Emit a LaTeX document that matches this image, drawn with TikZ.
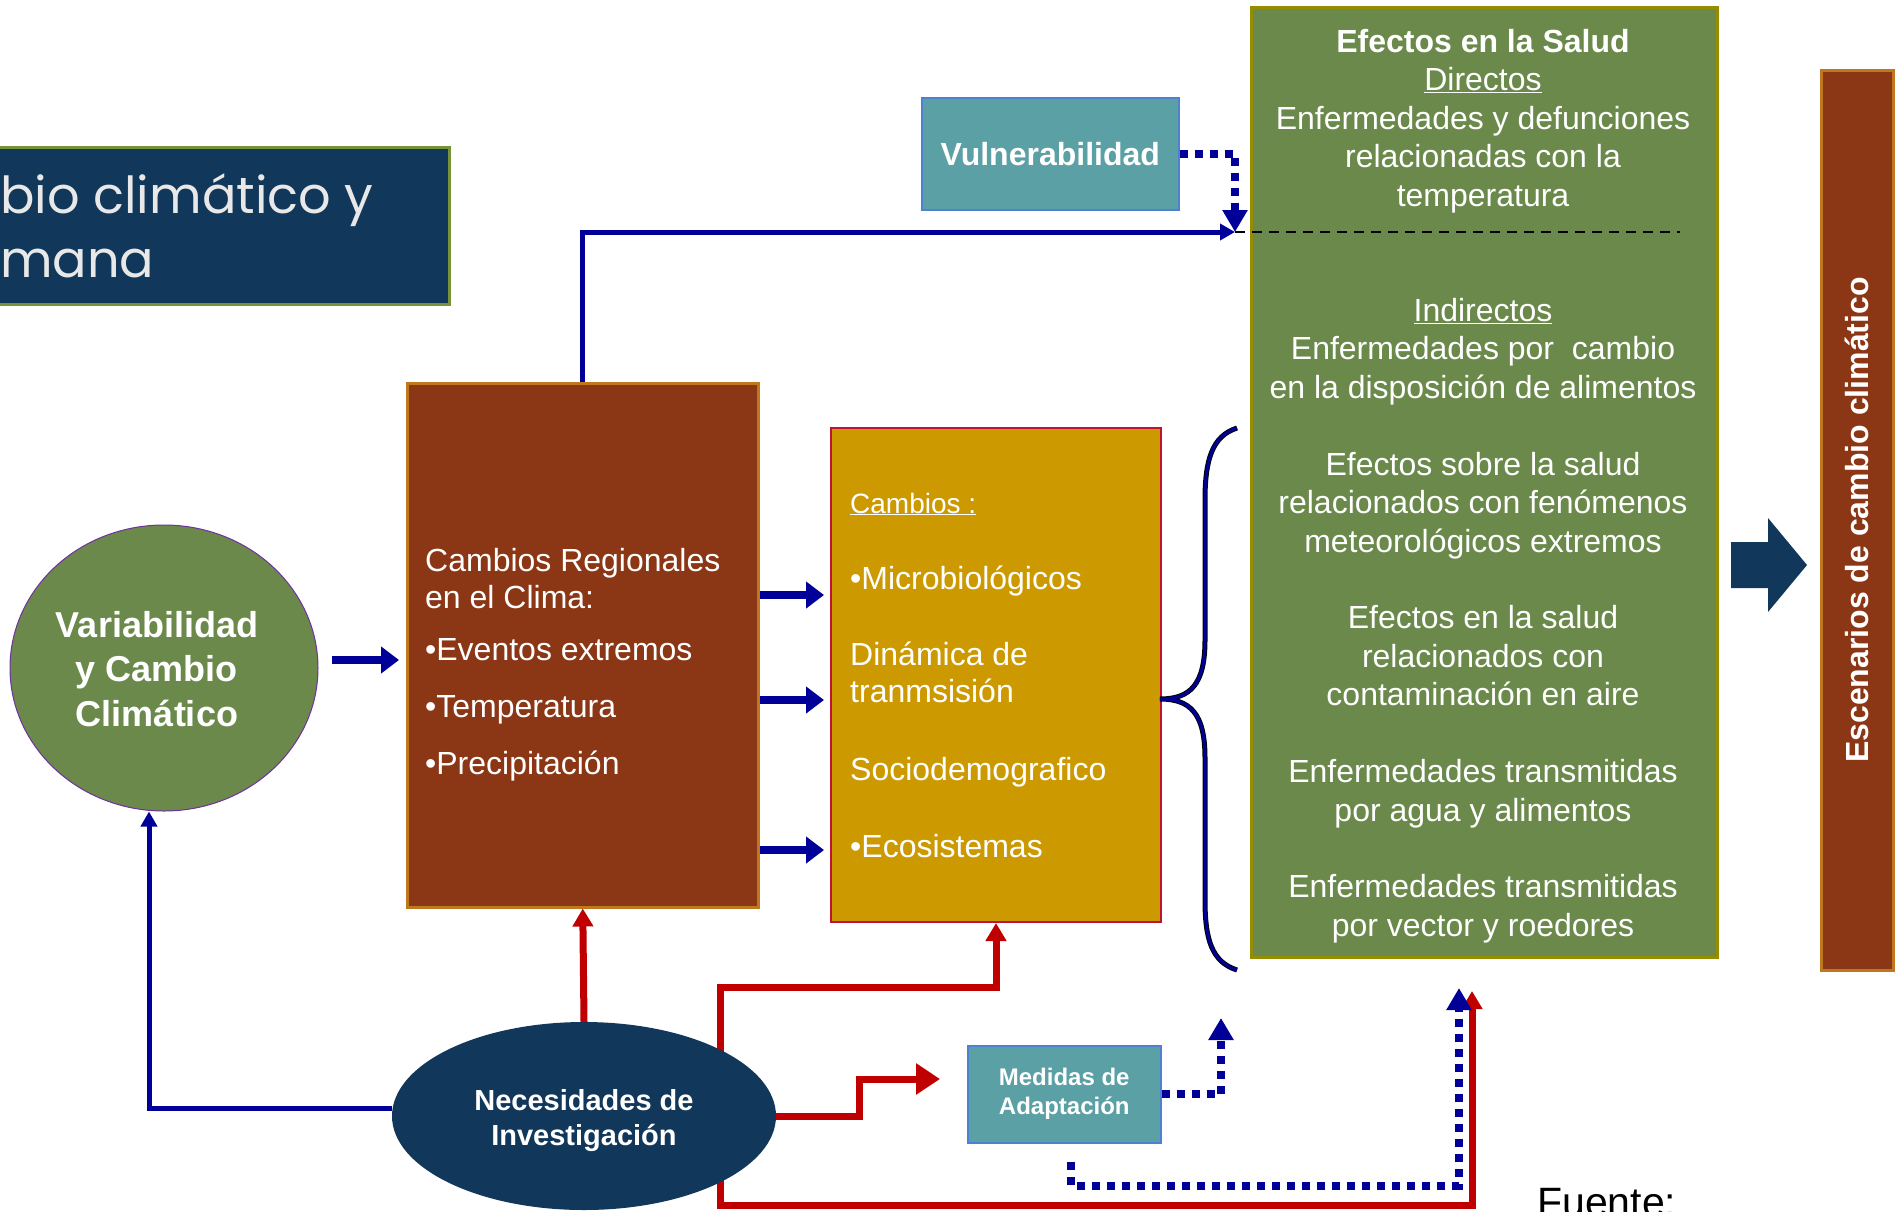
\documentclass[tikz,border=0pt]{standalone}
\usepackage{fontspec}
\setmainfont{Liberation Sans}
\newfontfamily\titlefont{Poppins}
\usetikzlibrary{arrows.meta,shapes.geometric}
\pgfdeclarelayer{bg}
\pgfsetlayers{bg,main}

\definecolor{navy}{RGB}{17,55,90}
\definecolor{leaf}{RGB}{106,137,75}
\definecolor{olive}{RGB}{150,140,0}
\definecolor{moss}{RGB}{118,147,60}
\definecolor{rust}{RGB}{139,54,21}
\definecolor{amber}{RGB}{192,120,30}
\definecolor{gold}{RGB}{204,153,0}
\definecolor{crimson}{RGB}{190,20,50}
\definecolor{teal2}{RGB}{91,160,164}
\definecolor{steel}{RGB}{79,129,210}
\definecolor{deepblue}{RGB}{0,0,153}
\definecolor{deepred}{RGB}{192,0,0}
\definecolor{plum}{RGB}{112,48,160}
\definecolor{mist}{RGB}{232,232,232}

\begin{document}
\begin{tikzpicture}[x=1pt,y=-1pt,
  box/.style={draw, inner sep=0pt, anchor=north west},
  wtxt/.style={text=white, inner sep=0pt, font=\fontsize{32}{38.4}\selectfont},
  gline/.style={wtxt, anchor=base},
  lline/.style={wtxt, anchor=base west},
  titletxt/.style={anchor=base west, inner sep=0pt, text=mist, font=\titlefont\fontsize{51}{60}\selectfont},
  thickblue/.style={draw=deepblue, line width=8pt, -{Triangle[length=18pt,width=26pt]}},
  blueline/.style={draw=deepblue, line width=5pt, -{Triangle[length=15pt,width=16pt]}},
  dotline/.style={draw=deepblue, line width=8pt, dash pattern=on 8pt off 7pt, -{Triangle[length=22pt,width=24pt]}},
  redline/.style={draw=deepred, line width=7pt, -{Triangle[length=18pt,width=20pt]}},
]
\useasboundingbox (0,0) rectangle (1895,1211);

% title banner
\node[box, fill=navy, draw=moss, line width=3pt, minimum width=468pt, minimum height=157pt] (title) at (-20,146) {};
\node[titletxt] (title1) at (0,213) {bio climático y};
\node[titletxt] (title2) at (0,277) {mana};

% vulnerability
\node[box, fill=teal2, draw=steel, line width=1.5pt, minimum width=257pt, minimum height=112pt,
      text=white, font=\bfseries\fontsize{32}{38}\selectfont] (vul) at (921,97) {Vulnerabilidad};

% health effects panel
\node[box, fill=leaf, draw=olive, line width=2.5pt, minimum width=466pt, minimum height=950pt] (efe) at (1250,6) {};
\foreach \i/\t [count=\k] in {
  0/{\bfseries Efectos en la Salud},
  1/{\underline{Directos}},
  2/{Enfermedades y defunciones},
  3/{relacionadas con la},
  4/{temperatura},
  7/{\underline{Indirectos}},
  8/{Enfermedades por\ \ cambio},
  9/{en la disposición de alimentos},
  11/{Efectos sobre la salud},
  12/{relacionados con fenómenos},
  13/{meteorológicos extremos},
  15/{Efectos en la salud},
  16/{relacionados con},
  17/{contaminación en aire},
  19/{Enfermedades transmitidas},
  20/{por agua y alimentos},
  22/{Enfermedades transmitidas},
  23/{por vector y roedores}}
  \node[gline] (eff\k) at (1483,{52.5+38.43*\i}) {\t};

% scenarios bar
\node[draw=amber, fill=rust, line width=3pt, inner sep=0pt, rotate=90, minimum width=900pt, minimum height=72pt,
      text=white, font=\bfseries\fontsize{32}{38}\selectfont] (esc) at (1857,520) {Escenarios de cambio climático};

% block arrow towards the scenarios
\fill[navy] (1731,542) -- (1768,542) -- (1768,518) -- (1807,565) -- (1768,612) -- (1768,588) -- (1731,588) -- cycle;

% climate variability
\node[ellipse, draw=plum, line width=1pt, fill=leaf, minimum width=308pt, minimum height=286pt, inner sep=0pt] (var) at (164,668) {};
\node[text=white, align=center, inner sep=0pt, font=\bfseries\fontsize{36}{44.7}\selectfont] (vartxt) at (157,669) {Variabilidad\\y Cambio\\Climático};

% regional changes
\node[box, fill=rust, draw=amber, line width=2.5pt, minimum width=351pt, minimum height=524pt] (clima) at (406,382) {};
\node[lline] (cl1) at (425,571.5) {Cambios Regionales};
\node[lline] (cl2) at (425,608.5) {en el Clima:};
\node[lline] (cl3) at (425,660.5) {•Eventos extremos};
\node[lline] (cl4) at (425,717.5) {•Temperatura};
\node[lline] (cl5) at (425,774.5) {•Precipitación};

% changes box
\node[box, fill=gold, draw=crimson, line width=2pt, minimum width=330pt, minimum height=494pt] (camb) at (830,427) {};
\node[lline, font=\fontsize{28}{34}\selectfont] (cb1) at (850,513) {\underline{Cambios :}};
\node[lline] (cb2) at (850,589.5) {•Microbiológicos};
\node[lline] (cb3) at (850,665.5) {Dinámica de};
\node[lline] (cb4) at (850,702.5) {tranmsisión};
\node[lline] (cb5) at (850,780.5) {Sociodemografico};
\node[lline] (cb6) at (850,857.5) {•Ecosistemas};

% research needs
\node[ellipse, fill=navy, minimum width=384pt, minimum height=188pt, inner sep=0pt] (nec) at (584,1116) {};
\node[text=white, align=center, inner sep=0pt, font=\bfseries\fontsize{29}{35}\selectfont] (nectxt) at (584,1120.5) {Necesidades de\\Investigación};

% adaptation
\node[box, fill=teal2, draw=steel, line width=1.5pt, minimum width=193pt, minimum height=97pt, align=center,
      text=white, font=\bfseries\fontsize{24}{29}\selectfont] (med) at (967,1045) {Medidas de\\Adaptación};

% source
\node[anchor=base west, inner sep=0pt, font=\fontsize{41}{49}\selectfont] (fuente) at (1537,1216) {Fuente:};

% connector points
\coordinate (split) at (1235,232);
\coordinate (dashend) at (1680,232);
\coordinate (nr) at (720,1116);
\coordinate (rtip) at (1472,991);
\coordinate (btip) at (1459,988);
\coordinate (mstep) at (859,1079);
\coordinate (mtip) at (1221,1018);
\coordinate (vstart) at (332,660);

\begin{pgfonlayer}{bg}
\draw[redline] (nr) |- ([shift={(0,64)}]camb.south) -- (camb.south);
\draw[redline] (nr) -- (nr |- 0,1205) -| (rtip);
\end{pgfonlayer}

\draw[thickblue, shorten >=7pt] (vstart) -- (vstart -| clima.west);
\foreach \yy in {595,700,850}
  \draw[thickblue, shorten >=6pt] (clima.east |- 0,\yy) -- (camb.west |- 0,\yy);

\draw[blueline] (clima.north) |- (split);
\draw[dotline] (vul.east) -| (split);
\draw[black, line width=2.5pt, dash pattern=on 10pt off 7pt] (split) -- (dashend);

\draw[blueline] ([yshift=8pt]nec.west) -| ([xshift=-15pt]var.south);
\draw[redline] (nec.north) -- (clima.south);
\draw[redline, -{Triangle[length=24pt,width=30pt]}, shorten >=27pt] (nec.east) -| (mstep) -- (mstep -| med.west);

\draw[dotline] (med.east) -| (mtip);
\draw[dotline] ([shift={(7,18)}]med.south) -- ++(0,24) -| (btip);

% brace grouping the effects
\draw[draw=black, line width=1pt, double=deepblue, double distance=3pt]
  (1237,428) .. controls (1212,436) and (1205,460) .. (1205,500) -- (1205,640)
  .. controls (1205,685) and (1190,699) .. (1160,699)
  .. controls (1190,699) and (1205,713) .. (1205,758) -- (1205,900)
  .. controls (1205,940) and (1212,962) .. (1237,970);

\end{tikzpicture}
\end{document}
